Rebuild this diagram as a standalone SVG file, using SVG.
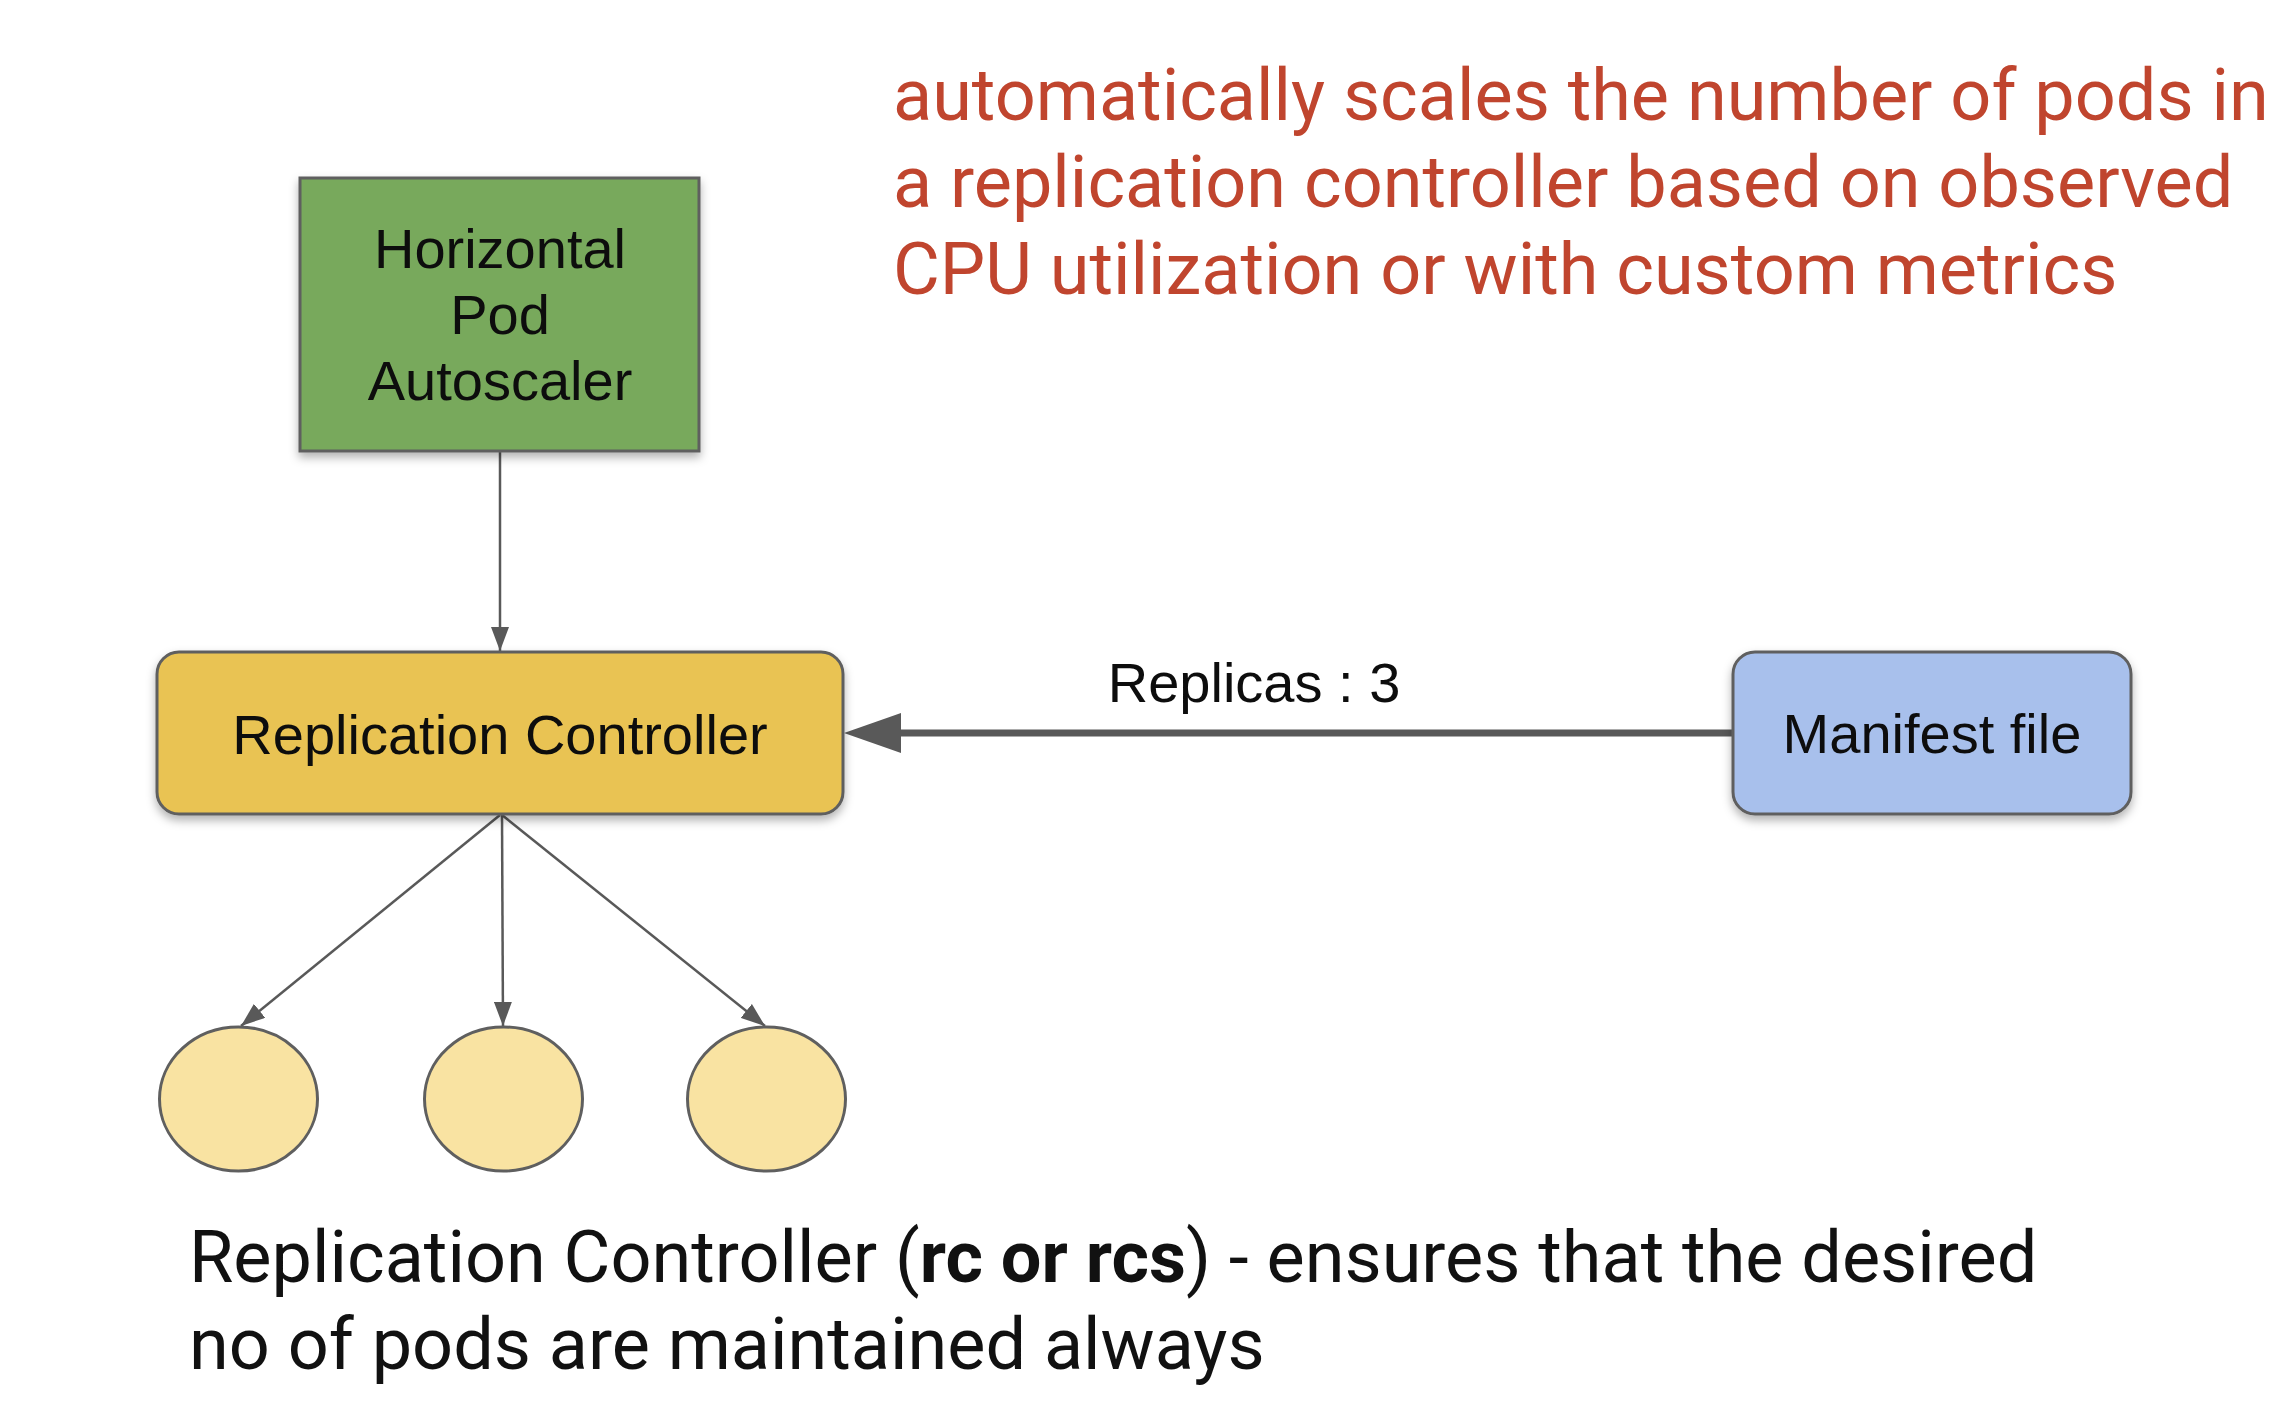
<svg xmlns="http://www.w3.org/2000/svg" width="2278" height="1410" viewBox="0 0 2278 1410">
<style>
.lbl{font-family:"Liberation Sans",Arial,sans-serif;font-size:56px;fill:#0d0d0d;text-anchor:middle}
.note{font-family:Roboto,"Liberation Sans",sans-serif;font-size:72px;fill:#c0452e}
.desc{font-family:Roboto,"Liberation Sans",sans-serif;font-size:72px;fill:#111}
.box{stroke:#5f5f5f;stroke-width:3}
.thin{stroke:#595959;stroke-width:2.5;fill:none}
.pod{fill:#f9e3a2;stroke:#5f5f5f;stroke-width:3}
</style>
<defs>
<filter id="sh" x="-10%" y="-10%" width="120%" height="130%">
<feDropShadow dx="0" dy="5" stdDeviation="5" flood-color="#000" flood-opacity="0.3"/>
</filter>
<marker id="ah" viewBox="0 0 24 18" refX="24" refY="9" markerWidth="24" markerHeight="18" markerUnits="userSpaceOnUse" orient="auto">
<path d="M0,0 L24,9 L0,18 Z" fill="#595959"/>
</marker>
</defs>
<rect width="2278" height="1410" fill="#ffffff"/>
<g id="connectors">
<line class="thin" x1="500" y1="451" x2="500" y2="651" marker-end="url(#ah)"/>
<line class="thin" x1="500" y1="815" x2="241" y2="1026" marker-end="url(#ah)"/>
<line class="thin" x1="502" y1="815" x2="503" y2="1026" marker-end="url(#ah)"/>
<line class="thin" x1="502" y1="815" x2="765" y2="1026" marker-end="url(#ah)"/>
<line x1="1733" y1="733" x2="895" y2="733" stroke="#595959" stroke-width="7"/>
<path d="M844,733 L901,713 L901,753 Z" fill="#595959"/>
<text class="lbl" x="1254" y="702">Replicas : 3</text>
</g>
<g id="hpa">
<rect class="box" x="300" y="178" width="399" height="273" fill="#78a95c" filter="url(#sh)"/>
<text class="lbl" x="500" y="268">Horizontal</text>
<text class="lbl" x="500" y="334">Pod</text>
<text class="lbl" x="500" y="400">Autoscaler</text>
</g>
<g id="rc">
<rect class="box" x="157" y="652" width="686" height="162" rx="22" fill="#e9c352" filter="url(#sh)"/>
<text class="lbl" x="500" y="754">Replication Controller</text>
</g>
<g id="manifest">
<rect class="box" x="1733" y="652" width="398" height="162" rx="22" fill="#a8c0ec" filter="url(#sh)"/>
<text class="lbl" x="1932" y="753">Manifest file</text>
</g>
<g id="pod1"><ellipse class="pod" cx="238.5" cy="1099" rx="79" ry="72"/></g>
<g id="pod2"><ellipse class="pod" cx="503.5" cy="1099" rx="79" ry="72"/></g>
<g id="pod3"><ellipse class="pod" cx="766.5" cy="1099" rx="79" ry="72"/></g>
<g id="note">
<text class="note" x="893" y="120">automatically scales the number of pods in</text>
<text class="note" x="893" y="207">a replication controller based on observed</text>
<text class="note" x="893" y="294">CPU utilization or with custom metrics</text>
</g>
<g id="description">
<text class="desc" x="189" y="1282">Replication Controller (<tspan font-weight="bold">rc or rcs</tspan>) - ensures that the desired</text>
<text class="desc" x="189" y="1369">no of pods are maintained always</text>
</g>
</svg>
